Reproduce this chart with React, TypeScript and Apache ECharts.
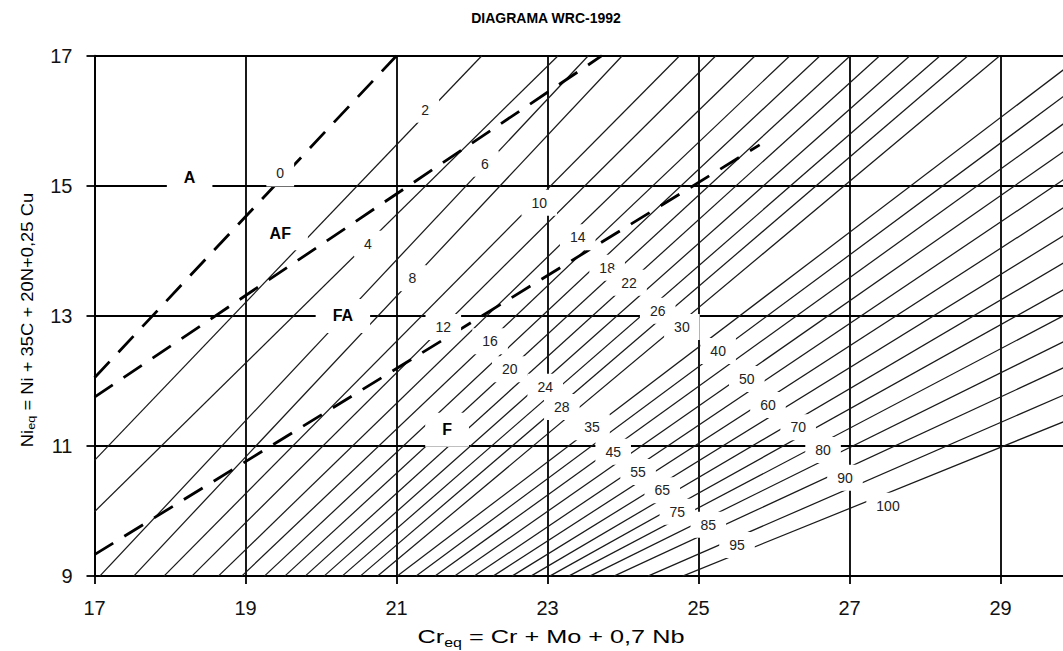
import React, { useEffect, useRef } from 'react';
import * as echarts from 'echarts';

const TITLE = 'DIAGRAMA WRC-1992';
const X_MIN = 17, X_MAX = 30, Y_MIN = 9, Y_MAX = 17;
const xTickLabels = [17, 19, 21, 23, 25, 27, 29];
const yTickLabels = [9, 11, 13, 15, 17];

// iso-ferrite-number lines (FN)
const fnValues = [2, 4, 6, 8, 10, 12, 14, 16, 18, 20, 22, 24, 26, 28, 30, 35, 40, 45, 50, 55, 60, 65, 70, 75, 80, 85, 90, 95, 100];
// where each FN line enters the plot (left / bottom edge), [Cr_eq, Ni_eq]
const fnStart: number[][] = [
  [17, 10.78], [17, 9.99], [17.07, 9], [17.52, 9], [17.92, 9], [18.29, 9], [18.64, 9], [18.95, 9],
  [19.25, 9], [19.52, 9], [19.79, 9], [20.04, 9], [20.28, 9], [20.52, 9], [20.75, 9], [21.01, 9],
  [21.26, 9], [21.51, 9], [21.77, 9], [22.03, 9], [22.28, 9], [22.53, 9], [22.78, 9], [23.03, 9],
  [23.28, 9], [23.56, 9], [23.88, 9], [24.33, 9], [24.79, 9],
];
// a second point on each FN line (top edge, or near the right edge)
const fnEnd: number[][] = [
  [22.13, 17], [23.14, 17], [23.54, 17], [23.99, 17], [24.75, 17], [25.23, 17], [25.75, 17], [26.21, 17],
  [26.61, 17], [27.01, 17], [27.4, 17], [27.8, 17], [28.2, 17], [28.57, 17], [28.99, 17],
  [29.83, 16.78], [29.83, 16.37], [29.83, 15.95], [29.83, 15.52], [29.83, 15.09], [29.83, 14.66],
  [29.83, 14.23], [29.83, 13.81], [29.83, 13.4], [29.83, 13.0], [29.83, 12.6], [29.83, 12.2],
  [29.83, 11.78], [29.83, 11.37],
];

// phase boundaries (dashed)
const boundaryA_AF = [[17, 12.05], [21, 17]];
const boundaryAF_FA = [[17, 11.75], [23.72, 17]];
const boundaryFA_F = [[17, 9.33], [25.81, 15.63]];

// FN labels and their positions
const fnLabelText = ['0', '2', '4', '6', '8', '10', '12', '14', '16', '18', '20', '22', '24', '26', '28', '30', '35', '40', '45', '50', '55', '60', '65', '70', '75', '80', '85', '90', '95', '100'];
const fnLabelPos: number[][] = [
  [19.46, 15.19], [21.38, 16.17], [20.62, 14.11], [22.17, 15.34], [21.21, 13.58], [22.89, 14.74],
  [21.62, 12.83], [23.4, 14.21], [22.24, 12.61], [23.79, 13.74], [22.5, 12.18], [24.08, 13.51],
  [22.97, 11.91], [24.46, 13.08], [23.19, 11.6], [24.78, 12.83], [23.59, 11.29], [25.26, 12.46],
  [23.87, 10.91], [25.64, 12.03], [24.2, 10.6], [25.92, 11.63], [24.52, 10.32], [26.32, 11.29],
  [24.72, 9.99], [26.65, 10.94], [25.13, 9.79], [26.94, 10.51], [25.51, 9.48], [27.51, 10.08],
];

// structure regions
const regionText = ['A', 'AF', 'FA', 'F'];
const regionPos: number[][] = [[18.26, 15.13], [19.46, 14.27], [20.29, 13.0], [21.67, 11.25]];

const FONT = '"Liberation Sans", Arial, Helvetica, sans-serif';

function clipLine(p0: number[], p1: number[]): number[][] {
  const dx = p1[0] - p0[0];
  const dy = p1[1] - p0[1];
  let lo = -1e9, hi = 1e9;
  const apply = (v0: number, d: number, a: number, b: number) => {
    if (Math.abs(d) < 1e-12) return;
    const t1 = (a - v0) / d, t2 = (b - v0) / d;
    lo = Math.max(lo, Math.min(t1, t2));
    hi = Math.min(hi, Math.max(t1, t2));
  };
  apply(p0[0], dx, X_MIN, X_MAX);
  apply(p0[1], dy, Y_MIN, Y_MAX);
  return [
    [p0[0] + lo * dx, p0[1] + lo * dy],
    [p0[0] + hi * dx, p0[1] + hi * dy],
  ];
}

export default function App() {
  const ref = useRef<HTMLDivElement>(null);

  useEffect(() => {
    if (!ref.current) return;
    const chart = echarts.init(ref.current, undefined, { renderer: 'svg' });

    const fnSeries = fnValues.map((fn, i) => ({
      type: 'line',
      name: 'FN ' + fn,
      data: clipLine(fnStart[i], fnEnd[i]),
      showSymbol: false,
      symbol: 'none',
      silent: true,
      z: 2,
      lineStyle: { color: '#1a1a1a', width: 1.25 },
    }));

    const dashed = [boundaryA_AF, boundaryAF_FA, boundaryFA_F].map((d, i) => ({
      type: 'line',
      name: 'boundary' + i,
      data: d,
      showSymbol: false,
      symbol: 'none',
      silent: true,
      z: 3,
      lineStyle: { color: '#000', width: 2.8, type: [22, 13] },
    }));

    const labelSeries = (name: string, pos: number[][], text: string[], z: number, label: any) => ({
      type: 'scatter',
      name,
      data: pos.map((p, i) => [p[0], p[1], text[i]]),
      symbolSize: 1,
      itemStyle: { opacity: 0 },
      silent: true,
      z,
      label: {
        show: true, position: 'inside', opacity: 1,
        formatter: (p: any) => p.data[2],
        fontFamily: FONT, backgroundColor: '#ffffff',
        ...label,
      },
      emphasis: { disabled: true },
    });

    const option: any = {
      animation: false,
      backgroundColor: '#fff',
      graphic: [
        {
          type: 'text', x: 546, y: 18, z: 20,
          style: { text: TITLE, fill: '#000', fontSize: 14, fontWeight: 'bold', fontFamily: FONT, textAlign: 'center', textVerticalAlign: 'middle' },
        },
        {
          type: 'text', x: 551, y: 637, scaleX: 1.33, z: 20,
          style: {
            text: '{a|Cr}{b|eq}{a| = Cr + Mo + 0,7 Nb}',
            fill: '#000', fontSize: 19, fontFamily: FONT, textAlign: 'center', textVerticalAlign: 'middle',
            rich: {
              a: { fontSize: 19, fontFamily: FONT, fill: '#000', lineHeight: 24 },
              b: { fontSize: 12, fontFamily: FONT, fill: '#000', lineHeight: 12, verticalAlign: 'bottom' },
            },
          },
        },
        {
          type: 'text', x: 27, y: 320, rotation: Math.PI / 2, scaleX: 1.15, z: 20,
          style: {
            text: '{a|Ni}{b|eq}{a| = Ni + 35C + 20N+0,25 Cu}',
            fill: '#000', fontSize: 16, fontFamily: FONT, textAlign: 'center', textVerticalAlign: 'middle',
            rich: {
              a: { fontSize: 16, fontFamily: FONT, fill: '#000', lineHeight: 20 },
              b: { fontSize: 11, fontFamily: FONT, fill: '#000', lineHeight: 11, verticalAlign: 'bottom' },
            },
          },
        },
      ],
      grid: { left: 94.5, top: 55.7, width: 981.5, height: 520.4, containLabel: false },
      xAxis: {
        type: 'value', min: X_MIN, max: X_MAX, interval: 1,
        axisLine: { show: true, onZero: false, lineStyle: { color: '#000', width: 1.8 } },
        axisTick: { show: true, customValues: xTickLabels, length: 8, lineStyle: { color: '#000', width: 1.8 } },
        axisLabel: { customValues: xTickLabels, color: '#111', fontSize: 20, fontFamily: FONT, margin: 22 },
        splitLine: { show: true, lineStyle: { color: '#000', width: 1.8 } },
      },
      yAxis: {
        type: 'value', min: Y_MIN, max: Y_MAX, interval: 1,
        axisLine: { show: true, onZero: false, lineStyle: { color: '#000', width: 1.8 } },
        axisTick: { show: true, customValues: yTickLabels, length: 8, lineStyle: { color: '#000', width: 1.8 } },
        axisLabel: { customValues: yTickLabels, color: '#111', fontSize: 20, fontFamily: FONT, margin: 22 },
        splitLine: { show: true, lineStyle: { color: '#000', width: 1.8 } },
      },
      series: [
        ...fnSeries,
        ...dashed,
        labelSeries('FN labels', fnLabelPos, fnLabelText, 10, { color: '#222', fontSize: 14, padding: [6, 10] }),
        labelSeries('regions', regionPos, regionText, 11, { color: '#000', fontSize: 16, fontWeight: 'bold', padding: [9, 17] }),
      ],
    };

    chart.setOption(option);
    return () => chart.dispose();
  }, []);

  return (
    <div style={{ position: 'fixed', left: 0, top: 0, width: 1063, height: 651, overflow: 'hidden', background: '#fff' }}>
      <div ref={ref} style={{ width: 1100, height: 651 }} />
    </div>
  );
}
